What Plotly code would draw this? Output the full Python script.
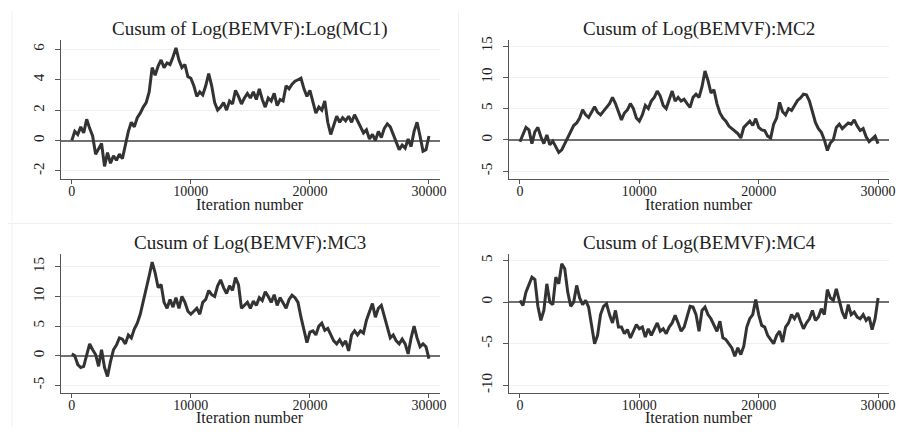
import plotly.graph_objects as go

iterations = list(range(0, 30001, 250))

cusum_mc1 = [
    0.0, 0.6, 0.4, 0.9, 0.5, 1.4, 0.8, 0.3,
    -0.9, -0.5, -0.2, -1.7, -0.8, -1.5, -1.0, -1.3,
    -0.9, -1.2, -0.3, 0.6, 1.2, 0.9, 1.5, 1.8,
    2.2, 2.5, 3.2, 4.8, 4.3, 4.9, 5.3, 4.8,
    5.1, 5.0, 5.5, 6.1, 5.3, 4.8, 5.0, 4.2,
    4.1, 3.6, 2.9, 3.2, 3.0, 3.6, 4.4, 3.6,
    2.5, 2.0, 2.2, 2.5, 2.0, 2.6, 2.4, 3.3,
    2.9, 2.4, 2.8, 3.1, 2.8, 3.2, 2.7, 3.4,
    2.7, 2.2, 2.8, 2.6, 3.1, 2.3, 2.7, 2.6,
    3.6, 3.4, 3.7, 3.9, 4.0, 4.1, 3.4, 2.9,
    3.3, 2.5, 1.8, 2.2, 2.0, 2.6, 1.2, 0.4,
    1.0, 1.6, 1.2, 1.5, 1.3, 1.6, 1.2, 1.7,
    1.3, 0.9, 0.5, 0.7, 0.1, 0.4, 0.0, 0.6,
    0.2, 0.8, 1.1, 0.9, 0.4, -0.2, -0.6, -0.3,
    -0.5, 0.1, -0.4, 0.6, 1.2, 0.3, -0.7, -0.6,
    0.3,
]

cusum_mc2 = [
    -0.3, 0.8, 2.0, 1.6, -0.6, 1.3, 2.0, 0.5,
    -0.6, 0.8, -0.8, -0.2, -1.2, -2.0, -1.6, -0.6,
    0.3, 1.5, 2.3, 2.7, 3.5, 4.8, 4.0, 3.6,
    4.5, 5.3, 4.4, 4.0, 4.6, 5.2, 5.8, 6.8,
    5.8, 4.5, 3.2, 4.3, 4.8, 5.8, 5.0, 3.5,
    3.0, 4.0, 5.5, 5.0, 6.2, 6.8, 7.8, 7.0,
    5.5, 5.0, 6.5, 7.8, 6.2, 6.8, 6.2, 6.5,
    5.8, 5.2, 6.8, 7.3, 6.8, 8.5, 11.0, 9.5,
    7.5, 8.0, 5.8, 4.3, 3.5, 3.0, 2.2, 1.8,
    1.5, 1.0, 0.3, 2.0, 2.5, 3.0, 2.3, 3.4,
    2.0, 1.6, 1.5, 0.6, 0.3, 2.5, 3.5, 6.0,
    4.5, 4.0, 5.0, 4.7, 5.5, 6.3, 6.7, 7.3,
    7.2, 6.2, 4.5, 2.8, 1.8, 1.2, 0.0, -1.7,
    -0.5, 0.0, 2.0, 2.5, 1.8, 2.2, 2.7, 2.5,
    3.2, 2.2, 1.5, 1.8, 0.5, -0.3, 0.2, 0.6,
    -0.6,
]

cusum_mc3 = [
    0.3, 0.0, -1.5, -2.0, -1.8, 0.0, 2.0, 1.0,
    0.2, -1.8, 1.0, -2.0, -3.5, -1.0, 1.0, 1.8,
    3.0, 2.8, 2.0, 3.5, 3.0, 4.5, 5.5, 7.0,
    9.0, 11.5, 13.5, 15.8, 14.0, 11.5, 12.0, 9.0,
    8.0, 9.5, 8.2, 9.8, 8.0, 10.0, 9.0, 7.5,
    7.0, 7.5, 8.0, 7.0, 9.0, 9.5, 11.0, 10.3,
    10.0, 11.8, 12.8, 11.5, 10.5, 11.8, 11.0, 13.2,
    12.0, 8.0, 8.5, 9.0, 8.0, 9.2, 8.5, 9.8,
    9.3, 10.8, 10.0, 9.0, 10.3, 8.5, 9.8, 9.0,
    8.0, 9.5, 10.2, 9.8, 9.0, 6.5, 4.5, 2.2,
    4.0, 4.2, 3.5, 5.0, 5.5, 4.3, 4.6, 3.5,
    2.5, 2.0, 2.7, 1.8, 2.5, 0.8, 3.5, 4.2,
    3.5, 4.2, 3.8, 6.0, 7.5, 8.8, 6.5, 8.0,
    8.5, 6.5, 4.5, 3.0, 3.5, 2.5, 2.0, 2.8,
    2.0, 0.3, 3.0, 5.0, 3.0, 1.5, 2.0, 1.5,
    -0.5,
]

cusum_mc4 = [
    0.2, -0.4, 1.2, 2.0, 3.0, 2.7, -0.5, -2.2,
    -1.0, 2.2, 0.0, -0.3, 3.0, 2.2, 4.6, 4.0,
    1.2, -0.5, 0.0, 2.0, 0.5, -0.3, 0.2, -0.6,
    -3.0, -5.0, -4.0, -1.5, -0.5, -0.2, -1.5, -2.5,
    -1.0, -3.0, -3.0, -3.8, -3.3, -4.3, -3.5, -2.7,
    -3.2, -3.0, -4.2, -3.2, -4.0, -3.3, -2.5, -3.5,
    -3.2, -3.8, -3.0, -2.5, -1.6, -2.5, -3.5, -3.0,
    -1.8, -0.5, -0.6, -1.5, -3.5, -1.0, -0.6, -1.5,
    -2.0, -2.8, -3.5, -2.3, -4.3, -4.5, -5.0, -5.5,
    -6.5, -5.5, -6.3, -5.3, -3.0, -2.0, -1.5, 0.3,
    -1.5, -2.8, -3.0, -4.0, -4.5, -5.0, -4.0, -3.5,
    -4.8, -3.0, -2.5, -1.5, -2.0, -1.3, -2.3, -3.2,
    -2.5, -2.0, -1.0, -2.2, -1.8, -0.8, -1.5, 1.5,
    0.5, 0.2, 1.6, 0.0, -1.2, -2.0, -0.3, -1.5,
    -1.2, -1.8, -2.0, -1.5, -2.2, -1.8, -3.3, -2.0,
    0.5,
]

titles = [
    "Cusum of Log(BEMVF):Log(MC1)",
    "Cusum of Log(BEMVF):MC2",
    "Cusum of Log(BEMVF):MC3",
    "Cusum of Log(BEMVF):MC4",
]
x_tickvals = [0, 10000, 20000, 30000]
x_ticktext = ["0", "10000", "20000", "30000"]
y_tickvals = [[-2, 0, 2, 4, 6], [-5, 0, 5, 10, 15], [-5, 0, 5, 10, 15], [-10, -5, 0, 5]]
y_ticktext = [["-2", "0", "2", "4", "6"], ["-5", "0", "5", "10", "15"],
              ["-5", "0", "5", "10", "15"], ["-10", "-5", "0", "5"]]
series = [cusum_mc1, cusum_mc2, cusum_mc3, cusum_mc4]

# page body has an 8px margin: lay out in reference pixel coords minus offset
OFF = 8
W, H = 907 - 2 * OFF, 435 - 2 * OFF


def px(xr):
    return (xr - OFF) / W


def py(yr):
    return 1 - (yr - OFF) / H


x_domains = [[px(61.5), px(443.1)], [px(513.2), px(895.8)]] * 2
y_domains = [[py(177), py(37)]] * 2 + [[py(393), py(252.5)]] * 2
y_ranges = [[-2.52, 6.63], [-6.22, 16.0], [-6.34, 17.21], [-10.95, 5.81]]
title_y = [py(26.5), py(26.5), py(241.5), py(241.5)]
xlabel_y = [py(202.5), py(202.5), py(417), py(417)]

FONT = "Liberation Serif"
fig = go.Figure()
layout = dict(
    width=W, height=H, autosize=False,
    margin=dict(l=0, r=0, t=0, b=0),
    paper_bgcolor="white", plot_bgcolor="white",
    showlegend=False,
    font=dict(family=FONT, color="#222"),
)
annotations = []
for i in range(4):
    sfx = "" if i == 0 else str(i + 1)
    fig.add_trace(go.Scatter(
        x=iterations, y=series[i], mode="lines",
        line=dict(color="#333333", width=3),
        xaxis="x" + sfx, yaxis="y" + sfx, hoverinfo="skip",
    ))
    layout["xaxis" + sfx] = dict(
        domain=x_domains[i], anchor="y" + sfx, range=[-900, 30900],
        tickvals=x_tickvals, ticktext=x_ticktext,
        showline=True, linecolor="#555", linewidth=1.2,
        ticks="outside", ticklen=4, tickcolor="#555",
        ticklabelstandoff=-5,
        showgrid=False, zeroline=False,
        tickfont=dict(family=FONT, size=14, color="#222"),
    )
    layout["yaxis" + sfx] = dict(
        domain=y_domains[i], anchor="x" + sfx, range=y_ranges[i],
        tickvals=y_tickvals[i], ticktext=y_ticktext[i], tickangle=-90,
        showline=True, linecolor="#555", linewidth=1.2,
        ticks="outside", ticklen=5, tickcolor="#555",
        ticklabelstandoff=5,
        showgrid=True, gridcolor="#efefef", gridwidth=1,
        zeroline=True, zerolinecolor="#707070", zerolinewidth=1.6,
        tickfont=dict(family=FONT, size=15, color="#222"),
    )
    cx = (x_domains[i][0] + x_domains[i][1]) / 2
    annotations.append(dict(
        text=titles[i], x=cx, y=title_y[i], xref="paper", yref="paper",
        xanchor="center", yanchor="middle", showarrow=False,
        font=dict(family=FONT, size=19, color="#222"),
    ))
    annotations.append(dict(
        text="Iteration number", x=cx, y=xlabel_y[i], xref="paper", yref="paper",
        xanchor="center", yanchor="middle", showarrow=False,
        font=dict(family=FONT, size=16, color="#222"),
    ))

layout["annotations"] = annotations
layout["shapes"] = [
    dict(type="line", xref="paper", yref="paper", x0=px(12), x1=px(12), y0=0, y1=1,
         line=dict(color="#f0f0f0", width=1)),
    dict(type="line", xref="paper", yref="paper", x0=px(462), x1=px(462), y0=0, y1=1,
         line=dict(color="#f0f0f0", width=1)),
    dict(type="line", xref="paper", yref="paper", x0=0, x1=1, y0=py(222), y1=py(222),
         line=dict(color="#f0f0f0", width=1)),
]
fig.update_layout(**layout)
fig.write_html("out.html")
